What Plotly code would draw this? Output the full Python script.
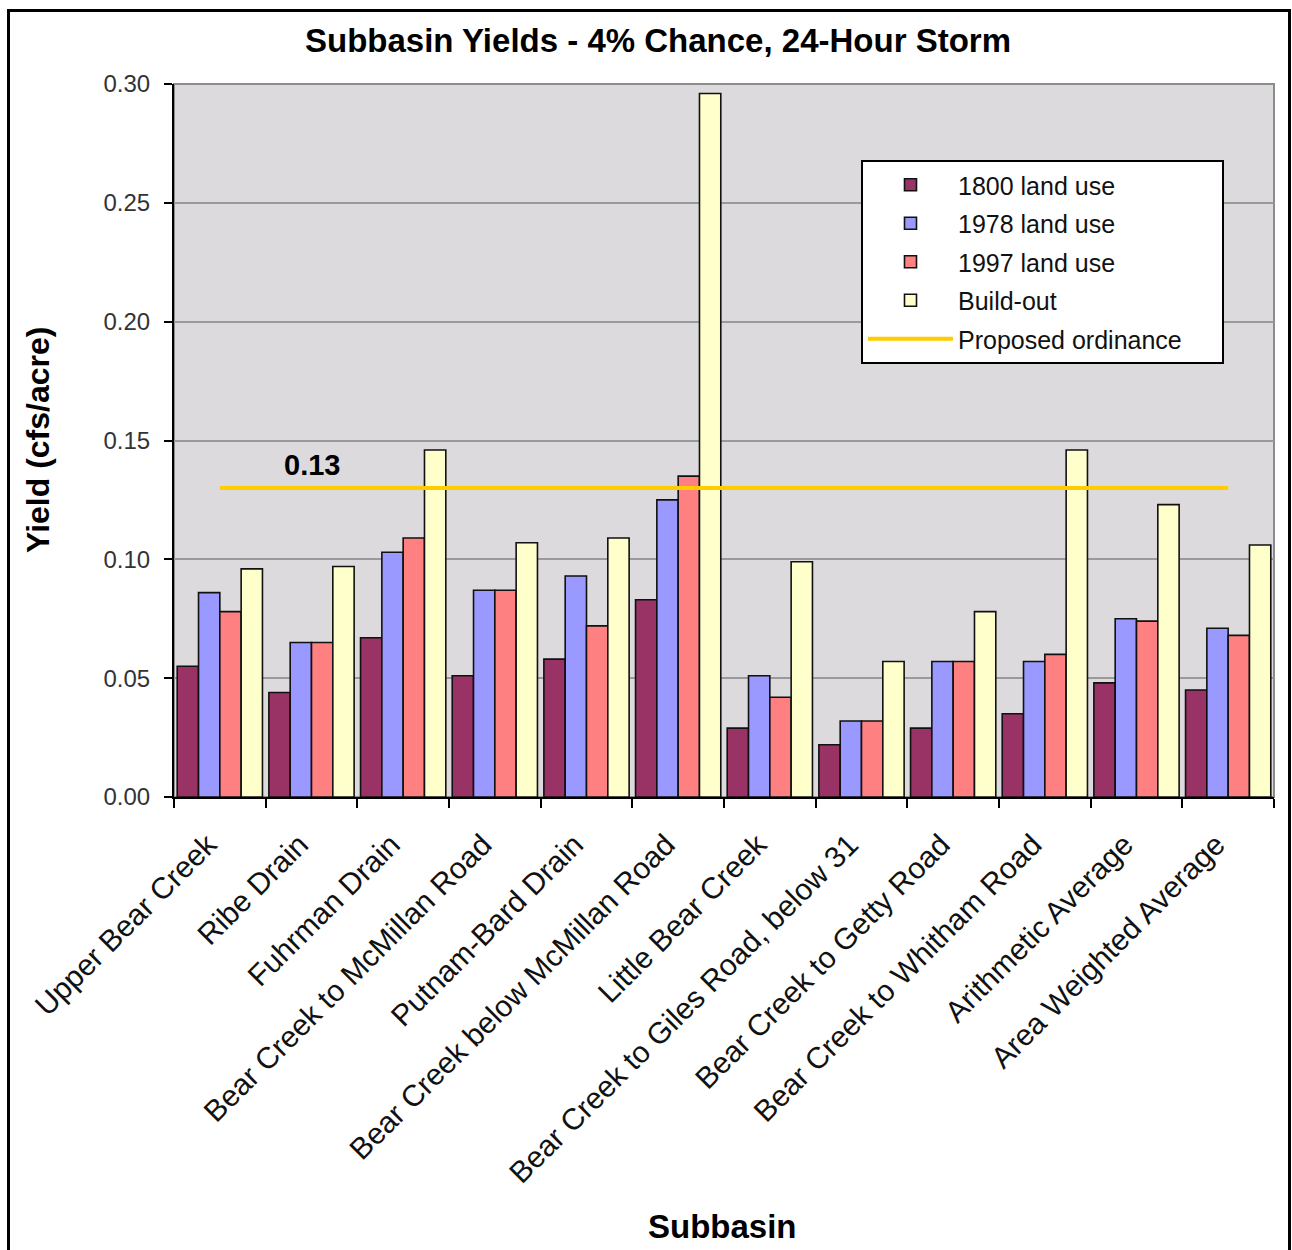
import plotly.graph_objects as go

# Subbasin names (x categories)
subbasins = [
    "Upper Bear Creek",
    "Ribe Drain",
    "Fuhrman Drain",
    "Bear Creek to McMillan Road",
    "Putnam-Bard Drain",
    "Bear Creek below McMillan Road",
    "Little Bear Creek",
    "Bear Creek to Giles Road, below 31",
    "Bear Creek to Getty Road",
    "Bear Creek to Whitham Road",
    "Arithmetic Average",
    "Area Weighted Average",
]

# Yields (cfs/acre) per land-use scenario
yield_1800 = [0.055, 0.044, 0.067, 0.051, 0.058, 0.083, 0.029, 0.022, 0.029, 0.035, 0.048, 0.045]
yield_1978 = [0.086, 0.065, 0.103, 0.087, 0.093, 0.125, 0.051, 0.032, 0.057, 0.057, 0.075, 0.071]
yield_1997 = [0.078, 0.065, 0.109, 0.087, 0.072, 0.135, 0.042, 0.032, 0.057, 0.060, 0.074, 0.068]
yield_buildout = [0.096, 0.097, 0.146, 0.107, 0.109, 0.296, 0.099, 0.057, 0.078, 0.146, 0.123, 0.106]

# Proposed ordinance threshold
ordinance = 0.13

series_names = ["1800 land use", "1978 land use", "1997 land use", "Build-out"]
series_values = [yield_1800, yield_1978, yield_1997, yield_buildout]
series_colors = ["#993366", "#9999FF", "#FF8080", "#FFFFCC"]

FONT = "Liberation Sans, Arial, sans-serif"

fig = go.Figure()
for i, (name, vals, col) in enumerate(zip(series_names, series_values, series_colors)):
    fig.add_trace(go.Bar(
        x=subbasins, y=vals, name=name,
        marker=dict(color=col, line=dict(color="#111111", width=1.6)),
        legendgroup=f"g{i}",
    ))

# trailing no-break spaces widen the legend box a little
fig.add_trace(go.Scatter(
    x=subbasins, y=[ordinance] * len(subbasins), mode="lines",
    name="Proposed ordinance" + "\u00a0" * 5, line=dict(color="#FFCC00", width=4),
    legendgroup="g4",
))

# plot-area geometry in pixels (for placing overlays in paper units)
W, H = 1292, 1250
L, R, T, B = 174, 18, 84, 453
pw, ph = W - L - R, H - T - B


def px_x(px):
    return (px - L) / pw


def px_y(py):
    return (H - B - py) / ph


fig.update_layout(
    width=W, height=H,
    margin=dict(l=L, r=R, t=T, b=B),
    paper_bgcolor="white",
    plot_bgcolor="#DCDADC",
    barmode="group",
    bargap=0.07,
    bargroupgap=0.0,
    font=dict(family=FONT, color="#222222"),
    title=dict(
        text="<b>Subbasin Yields - 4% Chance, 24-Hour Storm</b>",
        x=658 / W, xref="container", xanchor="center",
        y=1 - 40 / H, yref="container", yanchor="middle",
        font=dict(family=FONT, size=33, color="#000000"),
    ),
    showlegend=True,
    legend=dict(
        x=px_x(861), y=px_y(160), xanchor="left", yanchor="top",
        bgcolor="white", bordercolor="#000000", borderwidth=2,
        font=dict(family=FONT, size=25, color="#111111"),
        traceorder="grouped", tracegroupgap=3,
        itemwidth=85,
    ),
    xaxis=dict(
        type="category",
        tickangle=-45,
        tickson="boundaries",
        ticks="outside", ticklen=9, tickwidth=2, tickcolor="#000000",
        ticklabelstandoff=16,
        ticklabelshift=-12,
        showline=True, linecolor="#000000", linewidth=2,
        showgrid=False,
        tickfont=dict(family=FONT, size=30, color="#111111"),
    ),
    yaxis=dict(
        range=[0, 0.30], dtick=0.05, tickformat=".2f",
        ticks="outside", ticklen=8, tickwidth=2, tickcolor="#000000",
        ticklabelstandoff=9,
        showline=True, linecolor="#000000", linewidth=2,
        gridcolor="#9A9A9A", gridwidth=1.5,
        tickfont=dict(family=FONT, size=24, color="#333333"),
        zeroline=False,
    ),
    shapes=[
        # gray plot-area border (top and right)
        dict(type="rect", xref="paper", yref="paper", x0=0, x1=1, y0=0, y1=1,
             line=dict(color="#8C8C8C", width=2), layer="below"),
        # outer chart frame
        dict(type="rect", xref="paper", yref="paper",
             x0=px_x(8.5), x1=px_x(1289.5), y0=px_y(1265), y1=px_y(10.5),
             line=dict(color="#000000", width=3)),
    ],
    annotations=[
        dict(text="<b>0.13</b>", x=subbasins[1], y=ordinance, xref="x", yref="y",
             yshift=23, showarrow=False,
             font=dict(family=FONT, size=29, color="#000000")),
        dict(text="<b>Yield (cfs/acre)</b>", x=px_x(38), y=px_y(440),
             xref="paper", yref="paper", xanchor="center", yanchor="middle",
             textangle=-90, showarrow=False,
             font=dict(family=FONT, size=32, color="#000000")),
        dict(text="<b>Subbasin</b>", x=px_x(722), y=px_y(1226),
             xref="paper", yref="paper", xanchor="center", yanchor="middle",
             showarrow=False,
             font=dict(family=FONT, size=33, color="#000000")),
    ],
)

fig.write_html("out.html")
